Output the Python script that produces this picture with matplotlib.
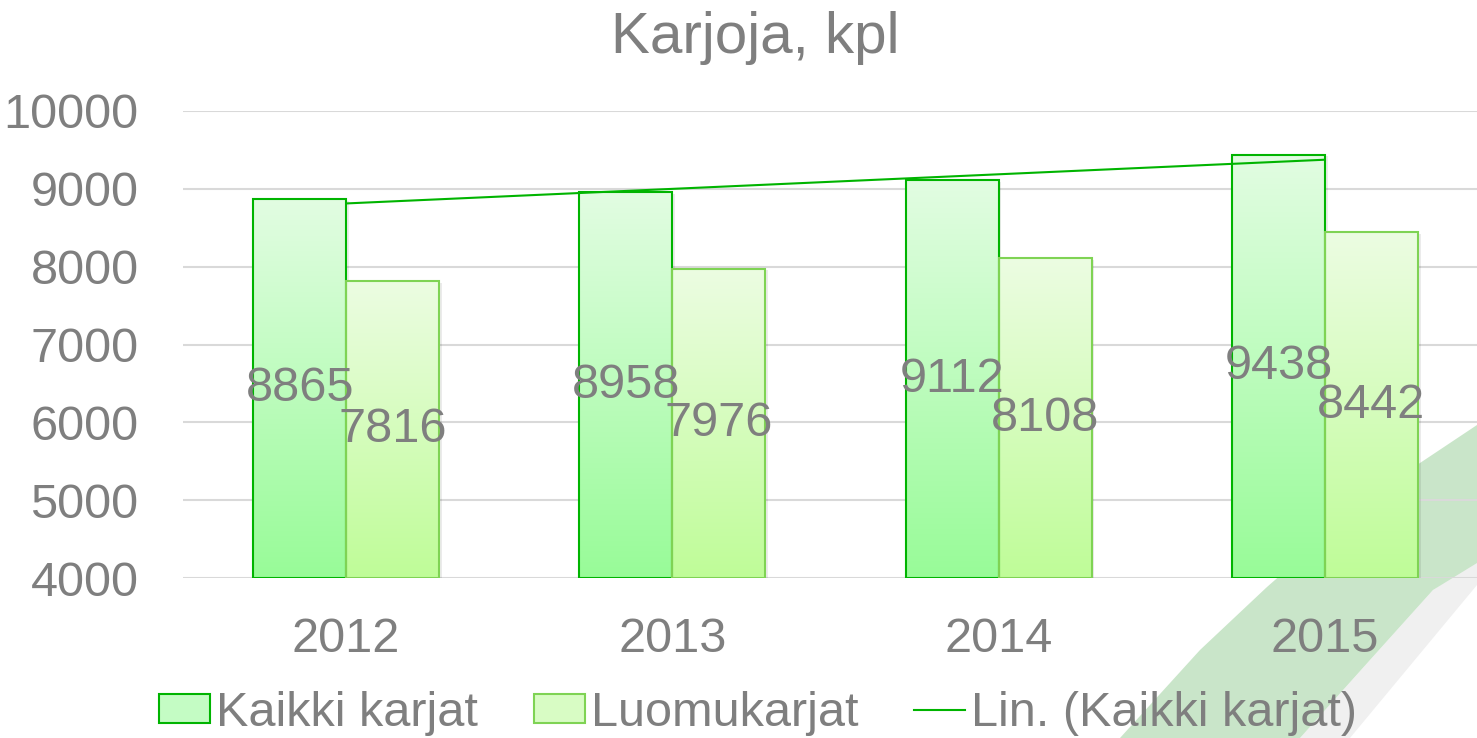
import numpy as np
import matplotlib
matplotlib.use("Agg")
from matplotlib import pyplot as plt
from matplotlib.patches import Rectangle, Polygon
from matplotlib.lines import Line2D
from matplotlib.colors import LinearSegmentedColormap

# Data
years = ["2012", "2013", "2014", "2015"]
kaikki = [8865, 8958, 9112, 9438]
luomu = [7816, 7976, 8108, 8442]
series_names = ["Kaikki karjat", "Luomukarjat", "Lin. (Kaikki karjat)"]

TEXT = "#7f7f7f"
plt.rcParams["font.family"] = ["Liberation Sans", "DejaVu Sans"]

W, H = 1477, 738
fig = plt.figure(figsize=(W / 100, H / 100), dpi=100)

# decorative swoosh in the background (figure coords)
def fx(px):
    return px / W

def fy(py):
    return 1 - py / H

shadow = Polygon([(fx(1300), fy(738)), (fx(1433), fy(590)), (fx(1477), fy(560)),
                  (fx(1477), fy(585)), (fx(1350), fy(738))],
                 closed=True, transform=fig.transFigure, facecolor="#f0f0f0",
                 edgecolor="none", zorder=0)
swoosh = Polygon([(fx(1120), fy(738)), (fx(1200), fy(650)), (fx(1267), fy(587)),
                  (fx(1340), fy(523)), (fx(1420), fy(463)), (fx(1477), fy(425)),
                  (fx(1477), fy(563)), (fx(1433), fy(590)), (fx(1370), fy(660)),
                  (fx(1300), fy(738))],
                 closed=True, transform=fig.transFigure, facecolor="#c9e5c9",
                 edgecolor="none", zorder=0)
fig.patches.extend([shadow, swoosh])

ax = fig.add_axes([183 / W, 160 / H, 1 - 183 / W, (627 - 160) / H])
ax.set_zorder(2)
ax.patch.set_alpha(0)

x = np.arange(len(years))
width = 0.285
xlim = (-0.5, 3.466)
ylim = (4000, 10000)

cm_k = LinearSegmentedColormap.from_list("k", ["#98fb98", "#e2fde2"])
cm_l = LinearSegmentedColormap.from_list("l", ["#bffc98", "#ecfde2"])
grad = np.linspace(0, 1, 256).reshape(-1, 1)


def gradient_bar(x0, h, cmap, edge):
    ax.imshow(grad, cmap=cmap, origin="lower", aspect="auto",
              extent=(x0, x0 + width, ylim[0], h), zorder=2)
    ax.add_patch(Rectangle((x0 + 0.008, ylim[0] - 20), width, h - ylim[0],
                           facecolor="#000000", alpha=0.08, edgecolor="none",
                           zorder=1.9))
    ax.add_patch(Rectangle((x0, ylim[0]), width, h - ylim[0], facecolor="none",
                           edgecolor=edge, linewidth=1.5, zorder=3))


for i in range(len(years)):
    gradient_bar(x[i] - width, kaikki[i], cm_k, "#00b400")
    gradient_bar(x[i], luomu[i], cm_l, "#7fd354")

# linear trend of Kaikki karjat
coef = np.polyfit(x + 1, kaikki, 1)
ax.plot(x, np.polyval(coef, x + 1), color="#00b400", linewidth=1.5, zorder=4)

# data labels
for i in range(len(years)):
    ax.text(x[i] - width / 2, (ylim[0] + kaikki[i]) / 2, str(kaikki[i]),
            ha="center", va="center", fontsize=35, color=TEXT, zorder=5)
    ax.text(x[i] + width / 2, (ylim[0] + luomu[i]) / 2, str(luomu[i]),
            ha="center", va="center", fontsize=35, color=TEXT, zorder=5)

ax.set_xlim(*xlim)
ax.set_ylim(*ylim)
ax.set_yticks(np.arange(4000, 10001, 1000))
ax.set_xticks(x)
ax.set_xticklabels(years)
ax.tick_params(axis="both", length=0, labelsize=35, labelcolor=TEXT)
ax.tick_params(axis="y", pad=32)
ax.tick_params(axis="x", pad=28)
ax.grid(axis="y", color="#d9d9d9", linewidth=1.5, zorder=0)
ax.set_axisbelow(True)
for s in ax.spines.values():
    s.set_visible(False)

fig.text(755 / W, 1 - 38 / H, "Karjoja, kpl", ha="center", va="center",
         fontsize=42, color=TEXT)

handles = [
    Rectangle((0, 0), 1, 1, facecolor="#c4fcc4", edgecolor="#00b400", linewidth=1.5),
    Rectangle((0, 0), 1, 1, facecolor="#d8fcc4", edgecolor="#7fd354", linewidth=1.5),
    Line2D([0], [0], color="#00b400", linewidth=1.5),
]
leg = fig.legend(handles, series_names, loc="center", ncol=3,
                 bbox_to_anchor=(758 / W, 1 - 713 / H), frameon=False,
                 fontsize=35, handlelength=1.05, handleheight=0.55,
                 handletextpad=0.12, columnspacing=1.15, borderpad=0)
leg.set_zorder(3)
for t in leg.get_texts():
    t.set_color(TEXT)

fig.savefig("out.png", dpi=100)
